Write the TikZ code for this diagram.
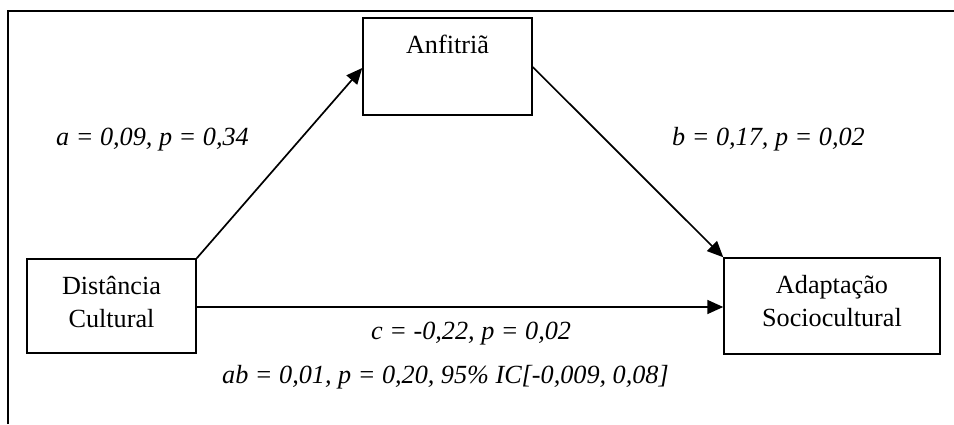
\documentclass[tikz,border=0pt]{standalone}
\usepackage{fontspec}
\setmainfont{Liberation Serif}
\usetikzlibrary{arrows.meta}
\begin{document}
\begin{tikzpicture}[x=1pt,y=-1pt,
  box/.style={draw,line width=1.5pt,rectangle,inner sep=0pt},
  txt/.style={font=\fontsize{26.2}{33}\selectfont,inner sep=0pt,align=center},
  lbl/.style={font=\fontsize{26.2}{33}\selectfont\itshape,inner sep=0pt},
  conn/.style={line width=1.7pt,-{Triangle[length=16pt,width=14pt]}}]
\useasboundingbox (0,0) rectangle (954,424);
% outer frame (cropped on right and bottom)
\draw[line width=2pt] (7.5,424) -- (7.5,11) -- (954,11);
% boxes
\node[box,minimum width=169pt,minimum height=97pt] (anf) at (447.5,66.5) {};
\node[box,minimum width=169pt,minimum height=94pt] (dist) at (111.5,306) {};
\node[box,minimum width=216pt,minimum height=96pt] (adap) at (832,306) {};
% box texts
\node[txt,anchor=base] (anft) at (447.5,53) {Anfitriã};
\node[txt] (distt) at (111.5,302) {Distância\\Cultural};
\node[txt] (adapt) at (832,301) {Adaptação\\Sociocultural};
% connectors
\draw[conn] (dist.north east) -- (anf.west |- 0,68);
\draw[conn] (anf.east |- 0,67) -- (adap.north west);
\draw[conn] (dist.east |- 0,307) -- (adap.west |- 0,307);
% labels
\node[lbl,anchor=base west] (la) at (56,145) {a = 0,09, p = 0,34};
\node[lbl,anchor=base west] (lb) at (672,145) {b = 0,17, p = 0,02};
\node[lbl,anchor=base west] (lc) at (371,339) {c = -0,22, p = 0,02};
\node[lbl,anchor=base west] (lab) at (222,383) {ab = 0,01, p = 0,20, 95\% IC[-0,009, 0,08]};
\end{tikzpicture}
\end{document}
